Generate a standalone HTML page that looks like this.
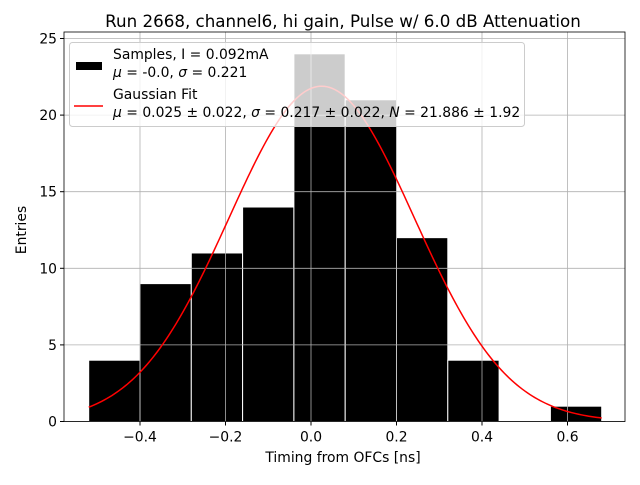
<!DOCTYPE html>
<html><head><meta charset="utf-8"><style>body{margin:0;background:#fff}svg{font-family:"DejaVu Sans","Liberation Sans",sans-serif}</style></head>
<body>
<svg id="c" width="640" height="480" xmlns="http://www.w3.org/2000/svg"></svg>
<script>
const binEdges=[-0.52,-0.40,-0.28,-0.16,-0.04,0.08,0.20,0.32,0.44,0.56,0.68];
const counts=[4,9,11,14,24,21,12,4,0,1];
const xTicks=[-0.4,-0.2,0,0.2,0.4,0.6];
const xTickLabels=["\u22120.4","\u22120.2","0.0","0.2","0.4","0.6"];
const yTicks=[0,5,10,15,20,25];
const fitMu=0.025, fitSigma=0.217, fitN=21.886;
const L=64,R=625,T=32,B=421.5;
const X=v=>311+v*427.5, Y=v=>421.5-v*15.32;
const svg=document.getElementById('c');const NS='http://www.w3.org/2000/svg';
function mk(t,a,p){const e=document.createElementNS(NS,t);for(const k in a)e.setAttribute(k,a[k]);(p||svg).appendChild(e);return e;}
let e=mk('text',{x:343,y:27,'font-size':16.7,'text-anchor':'middle'});e.textContent='Run 2668, channel6, hi gain, Pulse w/ 6.0 dB Attenuation';


counts.forEach((c,i)=>{const r=mk('rect',{x:X(binEdges[i]),y:Y(c),width:X(binEdges[i+1])-X(binEdges[i]),height:B-Y(c),fill:'#000',stroke:'#fff','stroke-width':1});

});
xTicks.forEach((t,i)=>{const g=mk('line',{x1:X(t),x2:X(t),y1:T,y2:B,stroke:'#b0b0b0','stroke-width':0.8});


mk('line',{x1:X(t),x2:X(t),y1:B,y2:B+4,stroke:'#000'});
const l=mk('text',{x:X(t),y:B+20,'font-size':13.9,'text-anchor':'middle'});l.textContent=xTickLabels[i];

});
yTicks.forEach(t=>{const g=mk('line',{x1:L,x2:R,y1:Y(t),y2:Y(t),stroke:'#b0b0b0','stroke-width':0.8});


mk('line',{x1:L-4,x2:L,y1:Y(t),y2:Y(t),stroke:'#000'});
const l=mk('text',{x:L-7,y:Y(t)+5,'font-size':13.9,'text-anchor':'end'});l.textContent=t;

});
let pts=[];for(let k=0;k<=200;k++){const x=binEdges[0]+(binEdges[binEdges.length-1]-binEdges[0])*k/200;const y=fitN*Math.exp(-Math.pow(x-fitMu,2)/(2*fitSigma*fitSigma));pts.push(X(x).toFixed(2)+','+Y(y).toFixed(2));}
e=mk('polyline',{points:pts.join(' '),fill:'none',stroke:'red','stroke-width':1.5});


e=mk('rect',{x:L,y:T,width:R-L,height:B-T,fill:'none',stroke:'#000','stroke-width':0.8});


e=mk('text',{x:343,y:462,'font-size':13.9,'text-anchor':'middle'});e.textContent='Timing from OFCs [ns]';


e=mk('text',{x:26,y:230,'font-size':13.9,'text-anchor':'middle',transform:'rotate(-90 26 230)'});e.textContent='Entries';


const lg=mk('g',{});


mk('rect',{x:69.5,y:42.5,width:455,height:84,rx:3,fill:'rgba(255,255,255,0.8)',stroke:'#ccc'},lg);
mk('rect',{x:76,y:62,width:26,height:8,fill:'#000'},lg);
mk('line',{x1:74,x2:103,y1:106,y2:106,stroke:'red','stroke-width':1.5},lg);
[['Samples, I = 0.092mA',59],['<tspan font-style="italic">\u03bc</tspan> = -0.0, <tspan font-style="italic">\u03c3</tspan> = 0.221',77],['Gaussian Fit',99],['<tspan font-style="italic">\u03bc</tspan> = 0.025 \u00b1 0.022, <tspan font-style="italic">\u03c3</tspan> = 0.217 \u00b1 0.022, <tspan font-style="italic">N</tspan> = 21.886 \u00b1 1.92',117]].forEach(([s,y])=>{const t=mk('text',{x:113,y:y,'font-size':13.9},lg);t.innerHTML=s;

});
</script>
</body></html>
